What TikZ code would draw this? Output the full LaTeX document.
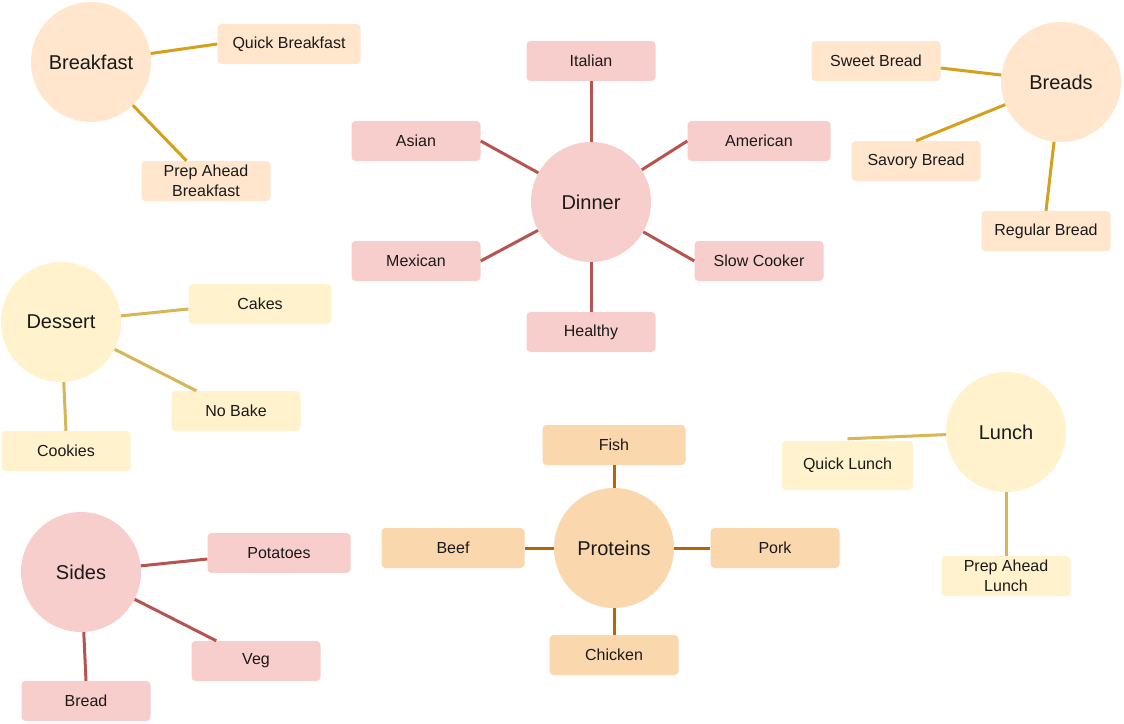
\documentclass[tikz,border=0pt]{standalone}
\usepackage{fontspec}
\setmainfont{Liberation Sans}
\definecolor{txt}{HTML}{1A1A1A}
\definecolor{peachF}{HTML}{FFE6CC}
\definecolor{peachL}{HTML}{D6A11A}
\definecolor{redF}{HTML}{F8CECC}
\definecolor{redL}{HTML}{B85450}
\definecolor{yelF}{HTML}{FFF2CC}
\definecolor{yelL}{HTML}{D6B656}
\definecolor{orF}{HTML}{FAD7AC}
\definecolor{orL}{HTML}{B46504}
\begin{document}
\begin{tikzpicture}[x=1pt,y=-1pt,
  hub/.style={circle, minimum size=120pt, inner sep=0pt, font=\fontsize{20}{24}\selectfont, text=txt},
  leaf/.style={rectangle, rounded corners=4pt, inner sep=0pt, minimum height=40pt, minimum width=129pt, font=\fontsize{16}{20}\selectfont, align=center, text=txt},
  wide/.style={minimum width=143pt},
  link/.style={line width=3pt},
]
\useasboundingbox (0,0) rectangle (1124,723);
\fill[white] (0,0) rectangle (1124,723);

% Breakfast
\node[hub, fill=peachF] (bf) at (91,62) {Breakfast};
\node[leaf, wide, fill=peachF] (qb) at (289,44) {Quick Breakfast};
\node[leaf, fill=peachF] (pab) at (206,181) {Prep Ahead\\Breakfast};
\draw[link, peachL] (bf) -- (qb.west);
\draw[link, peachL] (bf) -- (pab);

% Dinner
\node[hub, fill=redF] (din) at (591,202) {Dinner};
\node[leaf, fill=redF] (ita) at (591,61) {Italian};
\node[leaf, fill=redF] (asi) at (416,141) {Asian};
\node[leaf, wide, fill=redF] (ame) at (759,141) {American};
\node[leaf, fill=redF] (mex) at (416,261) {Mexican};
\node[leaf, fill=redF] (slow) at (759,261) {Slow Cooker};
\node[leaf, fill=redF] (hea) at (591,332) {Healthy};
\draw[link, redL] (din) -- (ita.south);
\draw[link, redL] (din) -- (asi.east);
\draw[link, redL] (din) -- (ame.west);
\draw[link, redL] (din) -- (mex.east);
\draw[link, redL] (din) -- (slow.west);
\draw[link, redL] (din) -- (hea.north);

% Breads
\node[hub, fill=peachF] (br) at (1061,82) {Breads};
\node[leaf, fill=peachF] (sw) at (876,61) {Sweet Bread};
\node[leaf, fill=peachF] (sav) at (916,161) {Savory Bread};
\node[leaf, fill=peachF] (reg) at (1046,231) {Regular Bread};
\draw[link, peachL] (br) -- ([yshift=-7pt]sw.east);
\draw[link, peachL] (br) -- (sav.north);
\draw[link, peachL] (br) -- (reg.north);

% Dessert
\node[hub, fill=yelF] (des) at (61,322) {Dessert};
\node[leaf, wide, fill=yelF] (cak) at (260,304) {Cakes};
\node[leaf, fill=yelF] (nob) at (236,411) {No Bake};
\node[leaf, fill=yelF] (coo) at (66,451) {Cookies};
\draw[link, yelL] (des) -- ([yshift=-5pt]cak.west);
\draw[link, yelL] (des) -- (nob);
\draw[link, yelL] (des) -- (coo.north);

% Sides
\node[hub, fill=redF] (sid) at (81,572) {Sides};
\node[leaf, wide, fill=redF] (pot) at (279,553) {Potatoes};
\node[leaf, fill=redF] (veg) at (256,661) {Veg};
\node[leaf, fill=redF] (bre) at (86,701) {Bread};
\draw[link, redL] (sid) -- ([yshift=-6pt]pot.west);
\draw[link, redL] (sid) -- (veg);
\draw[link, redL] (sid) -- (bre.north);

% Proteins
\node[hub, fill=orF] (pro) at (614,548) {Proteins};
\node[leaf, wide, fill=orF] (fis) at (614,445) {Fish};
\node[leaf, wide, fill=orF] (bee) at (453,548) {Beef};
\node[leaf, fill=orF] (por) at (775,548) {Pork};
\node[leaf, fill=orF] (chi) at (614,655) {Chicken};
\draw[link, orL] (pro) -- (fis.south);
\draw[link, orL] (pro) -- (bee.east);
\draw[link, orL] (pro) -- (por.west);
\draw[link, orL] (pro) -- (chi.north);

% Lunch
\node[hub, fill=yelF] (lun) at (1006,432) {Lunch};
\node[leaf, fill=yelF, minimum width=131pt, minimum height=49pt] (ql) at (847.5,465.5) {Quick Lunch};
\node[leaf, fill=yelF] (pal) at (1006,576) {Prep Ahead\\Lunch};
\draw[link, yelL] (lun) -- ([yshift=2pt]ql.north);
\draw[link, yelL] (lun) -- (pal.north);
\end{tikzpicture}
\end{document}
